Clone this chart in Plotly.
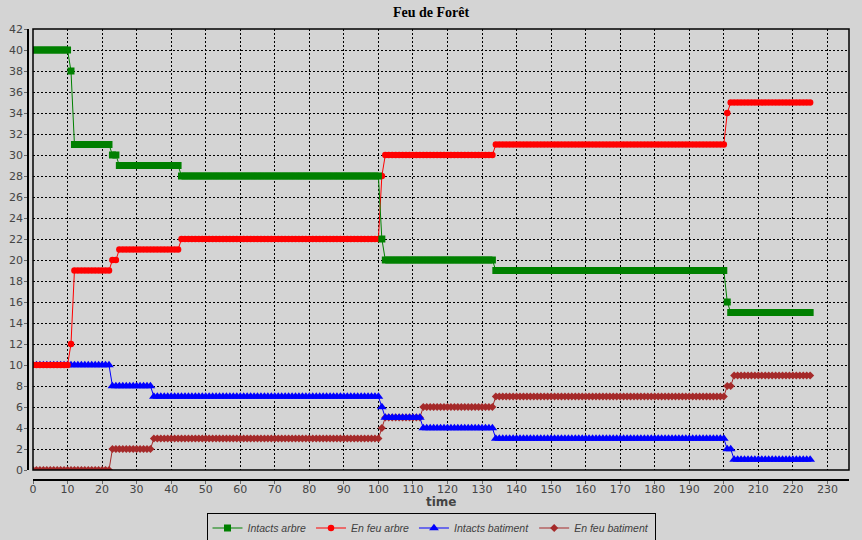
import plotly.graph_objects as go

# ---- data (step levels and the time at which each starts) ----
time_end = 225
arbre_change_times = [0, 11, 12, 23, 25, 43, 101, 102, 134, 201, 202]
intacts_arbre_levels = [40, 38, 31, 30, 29, 28, 22, 20, 19, 16, 15]
en_feu_arbre_levels = [10, 12, 19, 20, 21, 22, 28, 30, 31, 34, 35]

batiment_change_times = [0, 23, 35, 101, 102, 113, 134, 201, 203]
intacts_batiment_levels = [10, 8, 7, 6, 5, 4, 3, 2, 1]
en_feu_batiment_levels = [0, 2, 3, 4, 5, 6, 7, 8, 9]

x_ticks = list(range(0, 240, 10))
y_ticks = list(range(0, 44, 2))
x_title = "time"
chart_title = "Feu de Forêt"


def expand(change_times, levels, t_end):
    xs, ys = [], []
    for i, (t0, v) in enumerate(zip(change_times, levels)):
        t1 = change_times[i + 1] if i + 1 < len(change_times) else t_end + 1
        for t in range(t0, t1):
            xs.append(t)
            ys.append(v)
    return xs, ys


series = [
    ("Intacts arbre", arbre_change_times, intacts_arbre_levels, "#008000", "square", 7, 1),
    ("En feu arbre", arbre_change_times, en_feu_arbre_levels, "#FF0000", "circle", 6.5, 2),
    ("Intacts batiment", batiment_change_times, intacts_batiment_levels, "#0000FF", "triangle-up", 8.5, 3),
    ("En feu batiment", batiment_change_times, en_feu_batiment_levels, "#A52A2A", "diamond", 6.2, 4),
]

W, H = 862, 540
px0, px1 = 33, 849
py_top, py_bot = 29, 470
xdom = [px0 / W, px1 / W]
ydom = [(H - py_bot) / H, (H - py_top) / H]

fig = go.Figure()
# draw last series first so the first series ends up on top
for name, ct, lv, col, sym, sz, rank in reversed(series):
    xs, ys = expand(ct, lv, time_end)
    fig.add_trace(go.Scatter(
        x=xs, y=ys, name=name, mode="lines+markers",
        line=dict(color=col, width=1),
        marker=dict(symbol=sym, size=sz, color=col, line=dict(width=0)),
        legendrank=rank,
    ))

bg = "#D4D4D4"
tickfont = dict(family="DejaVu Sans", size=11, color="#444444")

fig.update_layout(
    template="none",
    width=W, height=H,
    margin=dict(l=0, r=0, t=0, b=0, pad=0, autoexpand=False),
    paper_bgcolor=bg, plot_bgcolor=bg,
    title=dict(text="<b>" + chart_title + "</b>", x=0.5, xanchor="center", xref="paper",
               y=1 - 12 / H, yanchor="middle", yref="container", automargin=False,
               font=dict(family="Liberation Serif", size=14, color="black")),
    xaxis=dict(
        domain=xdom, range=[0, (px1 - px0) / 3.454], anchor="free", position=(H - 480) / H,
        automargin=False,
        tickmode="array", tickvals=x_ticks, ticktext=[str(v) for v in x_ticks],
        showline=True, linecolor="black", linewidth=1.5,
        ticks="outside", ticklen=3, tickcolor="#666666", tickfont=tickfont,
        ticklabelstandoff=-4,
        showgrid=True, gridcolor="black", gridwidth=1, griddash="2px,2px",
        zeroline=False,
    ),
    yaxis=dict(
        domain=ydom, range=[0, 42], anchor="free", position=28 / W,
        automargin=False,
        tickmode="array", tickvals=y_ticks, ticktext=[str(v) for v in y_ticks],
        showline=True, linecolor="black", linewidth=1.5,
        ticks="outside", ticklen=3, tickcolor="#666666", tickfont=tickfont,
        ticklabelstandoff=-1,
        showgrid=True, gridcolor="black", gridwidth=1, griddash="2px,2px",
        zeroline=False,
    ),
    legend=dict(
        orientation="h", x=0.5, xanchor="center", y=(H - 528) / H, yanchor="middle",
        bgcolor=bg, bordercolor="black", borderwidth=1,
        font=dict(family="Liberation Sans", size=10.5, color="#404040", style="italic"),
        itemwidth=30, tracegroupgap=0,
    ),
    showlegend=True,
    annotations=[dict(text="<b>" + x_title + "</b>", xref="paper", yref="paper",
                      x=(xdom[0] + xdom[1]) / 2, y=(H - 502) / H, xanchor="center", yanchor="middle",
                      showarrow=False, font=dict(family="DejaVu Sans", size=12, color="#444444"))],
    shapes=[dict(type="rect", xref="paper", yref="paper",
                 x0=xdom[0], x1=xdom[1], y0=ydom[0], y1=ydom[1],
                 line=dict(color="black", width=1.5), layer="above")],
)

fig.write_html(
    "out.html",
    config={"displayModeBar": False},
    post_script="document.body.style.margin='0';document.body.style.background='#D4D4D4';",
)
